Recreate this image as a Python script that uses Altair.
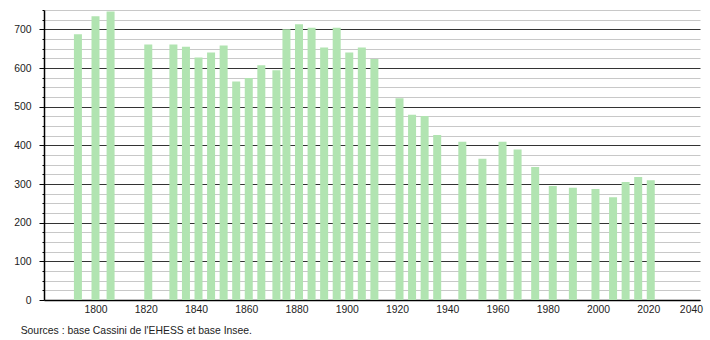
import altair as alt
import pandas as pd

years = [1793, 1800, 1806, 1821, 1831, 1836, 1841, 1846, 1851, 1856, 1861, 1866,
         1872, 1876, 1881, 1886, 1891, 1896, 1901, 1906, 1911, 1921, 1926, 1931,
         1936, 1946, 1954, 1962, 1968, 1975, 1982, 1990, 1999, 2006, 2011, 2016, 2021]
population = [687, 734, 746, 661, 661, 655, 627, 640, 658, 565, 574, 607,
              594, 700, 713, 704, 653, 704, 640, 653, 623, 522, 479, 476,
              427, 409, 365, 409, 389, 344, 295, 290, 287, 266, 305, 318, 310]
x_ticks = list(range(1800, 2041, 20))
y_ticks = list(range(0, 751, 25))
source_text = "Sources : base Cassini de l'EHESS et base Insee."

df = pd.DataFrame({"year": years, "pop": population})

FONT = "Liberation Sans"
FS = 10.4

chart = alt.Chart(df).mark_bar(size=8, color="#b1e4b1").encode(
    x=alt.X("year:Q",
            scale=alt.Scale(domain=[1779.5, 2040.6], nice=False, zero=False, padding=0),
            axis=alt.Axis(values=x_ticks, title=None, grid=False, ticks=False,
                          domainColor="#000", domainWidth=1.5,
                          labelFont=FONT, labelFontSize=FS, labelColor="#222",
                          labelPadding=4, labelFlush=3, labelFlushOffset=4, format="d")),
    y=alt.Y("pop:Q",
            scale=alt.Scale(domain=[0, 750], nice=False),
            axis=alt.Axis(values=y_ticks, title=None, grid=True,
                          gridColor={"condition": {"test": "datum.value % 100 === 0", "value": "#333333"}, "value": "#c8c8c8"},
                          gridWidth=1,
                          tickColor="#000",
                          tickSize={"condition": {"test": "datum.value % 100 === 0", "value": 5}, "value": 2},
                          domainColor="#000", domainWidth=1.5,
                          labelExpr="datum.value % 100 === 0 ? datum.label : ''",
                          labelFont=FONT, labelFontSize=FS, labelColor="#222",
                          labelPadding=8)),
).properties(
    width=656, height=290,
    title=alt.TitleParams(source_text, orient="bottom", anchor="start",
                          font=FONT, fontSize=FS, fontWeight="normal",
                          color="#222", dx=7, offset=12),
    padding={"left": 44, "top": 10, "right": 10, "bottom": 40},
    autosize="none",
).configure_view(stroke=None)

chart.save("out.html", embed_options={"renderer": "svg", "actions": False})
